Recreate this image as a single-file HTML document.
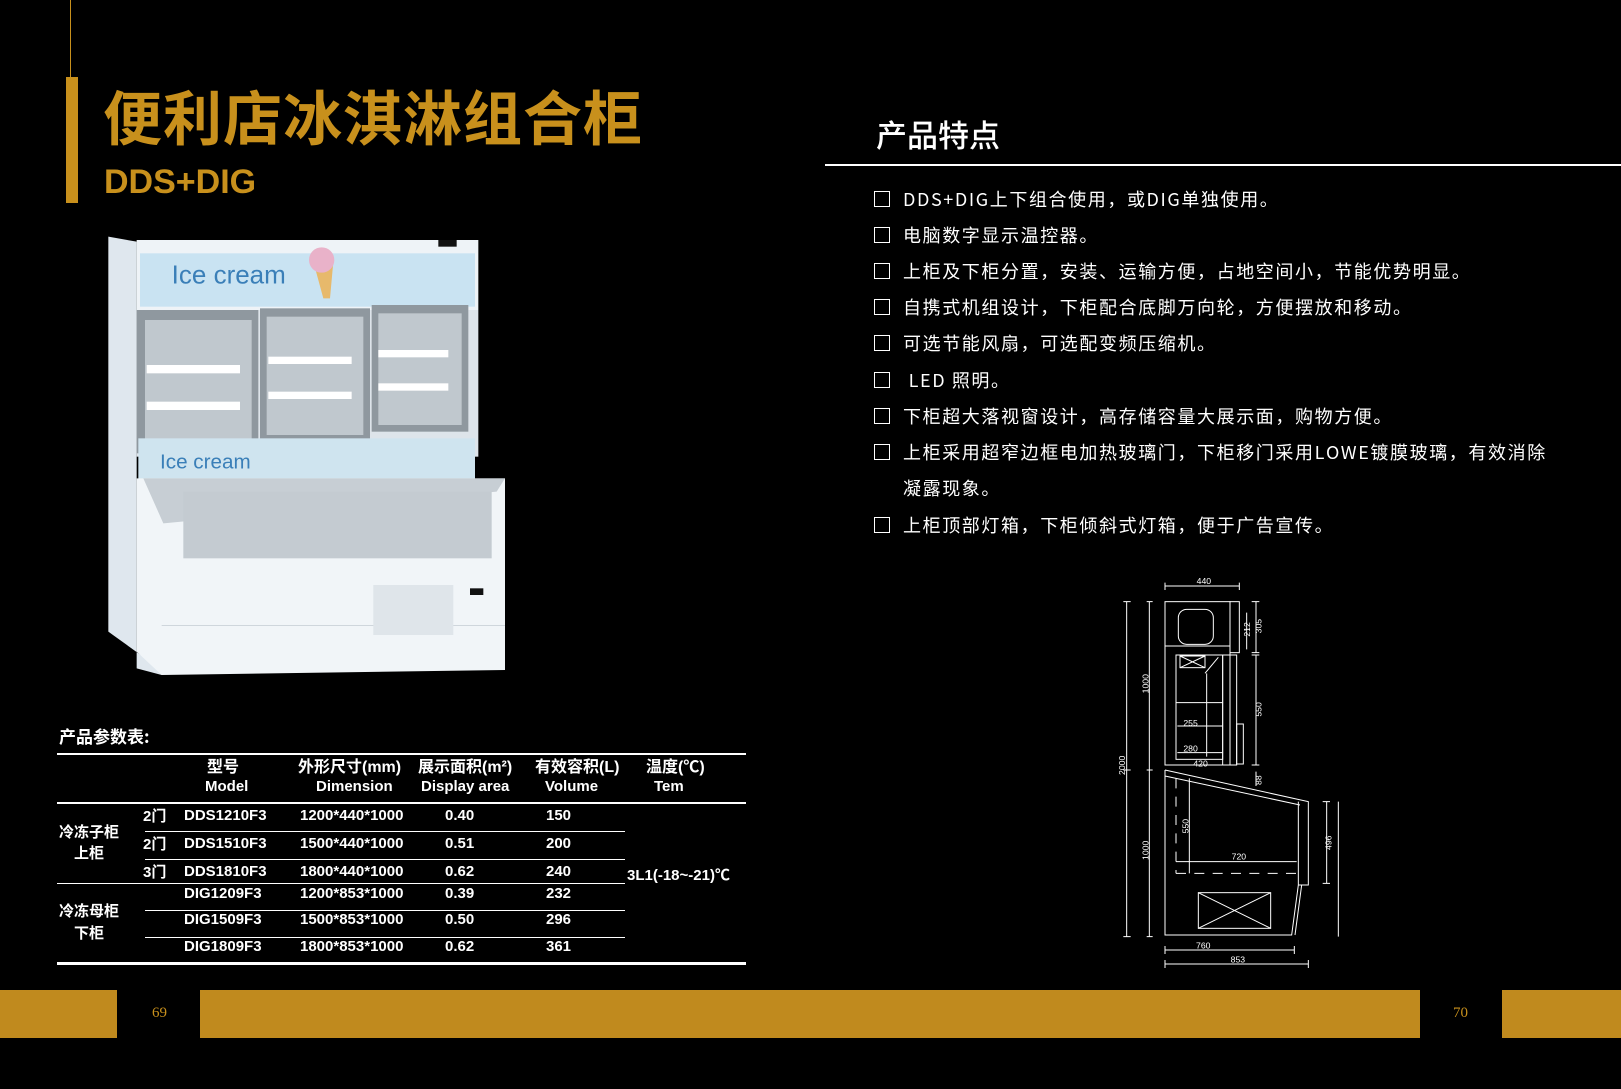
<!DOCTYPE html>
<html><head><meta charset="utf-8"><style>
html,body{margin:0;padding:0;background:#000;}
body{width:1621px;height:1089px;position:relative;overflow:hidden;font-family:"Liberation Sans","Noto Sans CJK SC",sans-serif;color:#fff;}
.a{position:absolute;white-space:nowrap;}
.gold{color:#c8901c;}
.tb{font-family:"Liberation Sans Narrow","Liberation Sans","Noto Sans CJK SC",sans-serif;font-weight:bold;font-size:15px;line-height:18px;}
.li{position:absolute;left:874px;font-size:18px;letter-spacing:1.6px;line-height:20px;font-family:"Noto Sans CJK SC","WenQuanYi Zen Hei",sans-serif;white-space:nowrap;}
.li::before{content:"";position:absolute;left:0;top:2px;width:14px;height:14px;border:1.5px solid #fff;}
.li span{position:absolute;left:29px;top:0;white-space:nowrap;}
.hl{position:absolute;background:#fff;height:1px;}
</style></head><body>
<div class="a" style="left:70px;top:0;width:1px;height:77px;background:#c8901c"></div>
<div class="a" style="left:66px;top:77px;width:12px;height:126px;background:#c8901c"></div>
<div class="a gold" style="left:103px;top:80px;font-size:59px;font-weight:bold;line-height:70px;font-family:'Noto Sans CJK SC',sans-serif;letter-spacing:1px">便利店冰淇淋组合柜</div>
<div class="a gold" style="left:104px;top:162px;font-size:34px;font-weight:bold;line-height:40px;">DDS+DIG</div>

<svg class="a" style="left:100px;top:225px" width="420" height="460" viewBox="0 0 1260 1380">
<polygon points="25,35 110,50 110,1330 185,1350 185,1335 25,1220" fill="#dfe7ee"/>
<rect x="110" y="45" width="1025" height="210" fill="#eef3f7"/>
<rect x="120" y="85" width="1005" height="160" fill="#c9e3f2"/>
<text x="215" y="175" font-family="Liberation Sans" font-size="78" fill="#3a7fb8">Ice cream</text>
<polygon points="640,110 700,110 690,220 670,220" fill="#e7b96b"/>
<circle cx="665" cy="105" r="38" fill="#e9b2c9"/>
<rect x="1015" y="45" width="55" height="20" fill="#111"/>
<rect x="110" y="255" width="1025" height="440" fill="#dde4ea"/>
<rect x="110" y="255" width="365" height="430" fill="#8f989f"/>
<rect x="480" y="250" width="330" height="395" fill="#8f989f"/>
<rect x="815" y="240" width="290" height="380" fill="#8f989f"/>
<rect x="135" y="285" width="320" height="380" fill="#c0c8ce"/>
<rect x="500" y="275" width="290" height="355" fill="#c0c8ce"/>
<rect x="835" y="265" width="250" height="335" fill="#c0c8ce"/>
<g fill="#fff"><rect x="140" y="420" width="280" height="25"/><rect x="140" y="530" width="280" height="25"/><rect x="505" y="395" width="250" height="22"/><rect x="505" y="500" width="250" height="22"/><rect x="835" y="375" width="210" height="22"/><rect x="835" y="475" width="210" height="22"/></g>
<rect x="115" y="640" width="1010" height="125" fill="#cfe4ef"/>
<text x="180" y="730" font-family="Liberation Sans" font-size="62" fill="#3a7fb8">Ice cream</text>
<polygon points="110,760 1215,760 1215,1335 185,1350 110,1280" fill="#f1f5f8"/>
<polygon points="130,760 1215,760 1190,800 190,895" fill="#c7ced4"/>
<rect x="250" y="800" width="925" height="200" fill="#c4cbd1"/>
<rect x="185" y="1200" width="1030" height="3" fill="#cfd6dc"/>
<rect x="820" y="1080" width="240" height="150" fill="#dfe5ea"/>
<rect x="1110" y="1090" width="40" height="20" fill="#111"/>
</svg>

<div class="a" style="left:59px;top:726px;font-size:17px;font-weight:bold;font-family:'Noto Sans CJK SC',sans-serif;line-height:20px">产品参数表:</div>
<div class="hl" style="left:57px;top:753px;width:689px;height:2px"></div>
<div class="hl" style="left:57px;top:802px;width:689px;height:2px"></div>
<div class="hl" style="left:145px;top:831px;width:480px"></div>
<div class="hl" style="left:145px;top:859px;width:480px"></div>
<div class="hl" style="left:57px;top:883px;width:568px"></div>
<div class="hl" style="left:145px;top:910px;width:480px"></div>
<div class="hl" style="left:145px;top:937px;width:480px"></div>
<div class="hl" style="left:57px;top:962px;width:689px;height:3px"></div>
<div class="a tb" style="left:207px;top:759px;font-size:16px">型号</div>
<div class="a tb" style="left:205px;top:778px">Model</div>
<div class="a tb" style="left:298px;top:759px;font-size:16px">外形尺寸(mm)</div>
<div class="a tb" style="left:316px;top:778px">Dimension</div>
<div class="a tb" style="left:418px;top:759px;font-size:16px">展示面积(m²)</div>
<div class="a tb" style="left:421px;top:778px">Display area</div>
<div class="a tb" style="left:535px;top:759px;font-size:16px">有效容积(L)</div>
<div class="a tb" style="left:545px;top:778px">Volume</div>
<div class="a tb" style="left:646px;top:759px;font-size:16px">温度(℃)</div>
<div class="a tb" style="left:654px;top:778px">Tem</div>
<div class="a tb" style="left:59px;top:824px">冷冻子柜</div>
<div class="a tb" style="left:74px;top:845px">上柜</div>
<div class="a tb" style="left:59px;top:903px">冷冻母柜</div>
<div class="a tb" style="left:74px;top:925px">下柜</div>
<div class="a tb" style="left:143px;top:808px">2门</div>
<div class="a tb" style="left:143px;top:836px">2门</div>
<div class="a tb" style="left:143px;top:864px">3门</div>
<div class="a tb" style="left:184px;top:807px">DDS1210F3</div>
<div class="a tb" style="left:184px;top:835px">DDS1510F3</div>
<div class="a tb" style="left:184px;top:863px">DDS1810F3</div>
<div class="a tb" style="left:184px;top:885px">DIG1209F3</div>
<div class="a tb" style="left:184px;top:911px">DIG1509F3</div>
<div class="a tb" style="left:184px;top:938px">DIG1809F3</div>
<div class="a tb" style="left:300px;top:807px">1200*440*1000</div>
<div class="a tb" style="left:300px;top:835px">1500*440*1000</div>
<div class="a tb" style="left:300px;top:863px">1800*440*1000</div>
<div class="a tb" style="left:300px;top:885px">1200*853*1000</div>
<div class="a tb" style="left:300px;top:911px">1500*853*1000</div>
<div class="a tb" style="left:300px;top:938px">1800*853*1000</div>
<div class="a tb" style="left:445px;top:807px">0.40</div>
<div class="a tb" style="left:445px;top:835px">0.51</div>
<div class="a tb" style="left:445px;top:863px">0.62</div>
<div class="a tb" style="left:445px;top:885px">0.39</div>
<div class="a tb" style="left:445px;top:911px">0.50</div>
<div class="a tb" style="left:445px;top:938px">0.62</div>
<div class="a tb" style="left:546px;top:807px">150</div>
<div class="a tb" style="left:546px;top:835px">200</div>
<div class="a tb" style="left:546px;top:863px">240</div>
<div class="a tb" style="left:546px;top:885px">232</div>
<div class="a tb" style="left:546px;top:911px">296</div>
<div class="a tb" style="left:546px;top:938px">361</div>
<div class="a tb" style="left:627px;top:867px">3L1(-18~-21)℃</div>

<div class="a" style="left:876px;top:114px;font-size:31px;line-height:40px;font-family:'Noto Sans CJK SC',sans-serif;font-weight:500">产品特点</div>
<div class="hl" style="left:825px;top:164px;width:796px;height:2px"></div>
<div class="li" style="top:189px"><span>DDS+DIG上下组合使用，或DIG单独使用。</span></div>
<div class="li" style="top:225px"><span>电脑数字显示温控器。</span></div>
<div class="li" style="top:261px"><span>上柜及下柜分置，安装、运输方便，占地空间小，节能优势明显。</span></div>
<div class="li" style="top:297px"><span>自携式机组设计，下柜配合底脚万向轮，方便摆放和移动。</span></div>
<div class="li" style="top:333px"><span>可选节能风扇，可选配变频压缩机。</span></div>
<div class="li" style="top:370px"><span>&nbsp;LED 照明。</span></div>
<div class="li" style="top:406px"><span>下柜超大落视窗设计，高存储容量大展示面，购物方便。</span></div>
<div class="li" style="top:442px"><span>上柜采用超窄边框电加热玻璃门，下柜移门采用LOWE镀膜玻璃，有效消除</span></div>
<div class="a" style="left:903px;top:478px;font-size:18px;letter-spacing:1.6px;line-height:20px;font-family:'Noto Sans CJK SC',sans-serif">凝露现象。</div>
<div class="li" style="top:515px"><span>上柜顶部灯箱，下柜倾斜式灯箱，便于广告宣传。</span></div>

<svg class="a" style="left:1100px;top:570px" width="240" height="400" viewBox="0 0 720 1200" fill="none" stroke="#fff" stroke-width="3" font-family="Liberation Sans Narrow,Liberation Sans" font-size="26">
<path d="M195,48H418M195,38V60M418,38V60"/>
<path d="M80,95V1100M70,95H92M70,600H92M70,1100H92"/>
<path d="M148,95V1100M140,95H158M140,600H158M140,1100H158"/>
<rect x="195" y="95" width="195" height="490"/>
<path d="M195,228H390"/>
<rect x="390" y="95" width="28" height="153"/>
<rect x="235" y="118" width="105" height="105" rx="25"/>
<rect x="228" y="255" width="140" height="313"/>
<rect x="240" y="258" width="75" height="35"/><path d="M240,258L315,293M315,258L240,293M315,310L355,262"/>
<path d="M228,398H368M232,468H368M232,548H368M320,310V560"/>
<rect x="368" y="255" width="22" height="330"/>
<rect x="390" y="255" width="20" height="330"/>
<rect x="410" y="462" width="20" height="120"/>
<path d="M195,600L625,695V945H595V695M195,618L600,705M595,945L575,1095H195V600M605,945L585,1095"/>
<path d="M228,625V910M228,910H595" stroke-dasharray="30,25"/>
<path d="M268,625V910"/>
<path d="M228,875H590"/>
<rect x="295" y="968" width="217" height="107"/><path d="M295,968L512,1075M512,968L295,1075"/>
<path d="M195,1140H583M195,1128V1152M583,1128V1152M195,1182H625M195,1170V1194M625,1170V1194"/>
<path d="M468,95V248M455,95H478M455,248H478M440,128V238M468,255V585M455,255H478M455,585H478M468,605V648M680,695V940M668,695H690M668,940H690M715,695V1100"/>
<g fill="#fff" stroke="none">
<text x="290" y="42">440</text><text x="288" y="1135">760</text><text x="392" y="1177">853</text><text x="395" y="868">720</text>
<text x="280" y="590">420</text><text x="250" y="468">255</text><text x="250" y="545">280</text>
<text transform="translate(75,615) rotate(-90)">2000</text>
<text transform="translate(145,370) rotate(-90)">1000</text>
<text transform="translate(145,870) rotate(-90)">1000</text>
<text transform="translate(485,190) rotate(-90)">305</text>
<text transform="translate(450,200) rotate(-90)">212</text>
<text transform="translate(485,440) rotate(-90)">550</text>
<text transform="translate(485,645) rotate(-90)">88</text>
<text transform="translate(695,840) rotate(-90)">496</text>
<text transform="translate(265,790) rotate(-90)">550</text>
</g>
</svg>

<div class="a" style="left:0;top:990px;width:117px;height:48px;background:#c08a1e"></div>
<div class="a" style="left:200px;top:990px;width:1220px;height:48px;background:#c08a1e"></div>
<div class="a" style="left:1502px;top:990px;width:119px;height:48px;background:#c08a1e"></div>
<div class="a gold" style="left:152px;top:1005px;font-size:15px;font-family:'Liberation Serif',serif">69</div>
<div class="a gold" style="left:1453px;top:1005px;font-size:15px;font-family:'Liberation Serif',serif">70</div>
</body></html>
